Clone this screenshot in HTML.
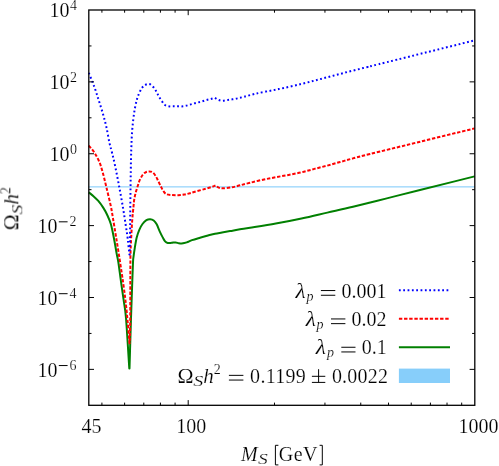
<!DOCTYPE html>
<html><head><meta charset="utf-8"><title>plot</title>
<style>html,body{margin:0;padding:0;background:#fff;}svg{display:block;}text{font-family:"Liberation Serif",serif;fill:#000;font-size:20px;stroke:#fff;stroke-width:0.18px;}.i{font-style:italic;}.s{font-size:14px;}.op{stroke:#000;stroke-width:1.0;fill:none;}</style></head><body>
<svg width="499" height="466" viewBox="0 0 499 466">
<rect x="0" y="0" width="499" height="466" fill="#fff"/>
<g opacity="0.999">
<rect x="88.80" y="186.20" width="386.00" height="1.3" fill="#87cefa" opacity="0.85"/>
<g fill="none" stroke-linejoin="round">
<path d="M88.80,192.40C90.37,193.67 91.92,194.78 93.50,196.20C95.08,197.62 96.68,199.00 98.30,200.90C99.92,202.80 101.75,205.33 103.20,207.60C104.65,209.87 105.72,211.72 107.00,214.50C108.28,217.28 109.70,220.10 110.90,224.30C112.10,228.50 113.23,234.77 114.20,239.70C115.17,244.63 116.00,250.10 116.70,253.90C117.40,257.70 117.65,257.62 118.40,262.50C119.15,267.38 120.30,276.75 121.20,283.20C122.10,289.65 123.00,295.40 123.80,301.20C124.60,307.00 125.08,306.80 126.00,318.00C126.92,329.20 128.20,351.60 129.30,368.40L129.50,368.40C130.00,351.60 130.55,332.15 131.00,318.00C131.45,303.85 131.87,292.78 132.20,283.50C132.53,274.22 132.78,266.75 133.00,262.30C133.22,257.85 133.20,259.22 133.50,256.80C133.80,254.38 134.27,251.02 134.80,247.80C135.33,244.58 135.95,240.50 136.70,237.50C137.45,234.50 138.33,232.05 139.30,229.80C140.27,227.55 141.32,225.60 142.50,224.00C143.68,222.40 145.12,220.98 146.40,220.20C147.68,219.42 148.98,219.25 150.20,219.30C151.42,219.35 152.62,219.67 153.70,220.50C154.78,221.33 155.70,222.48 156.70,224.30C157.70,226.12 158.70,229.22 159.70,231.40C160.70,233.58 161.80,235.73 162.70,237.40C163.60,239.07 164.27,240.47 165.10,241.40C165.93,242.33 166.60,242.77 167.70,243.00C168.80,243.23 170.37,242.90 171.70,242.80C173.03,242.70 174.53,242.33 175.70,242.40C176.87,242.47 177.70,243.03 178.70,243.20C179.70,243.37 180.37,243.53 181.70,243.40C183.03,243.27 184.98,242.95 186.70,242.40C188.42,241.85 189.78,240.88 192.00,240.10C194.22,239.32 197.33,238.47 200.00,237.70C202.67,236.93 205.50,236.17 208.00,235.50C210.50,234.83 212.67,234.20 215.00,233.70C217.33,233.20 219.50,232.93 222.00,232.50C224.50,232.07 227.00,231.63 230.00,231.10C233.00,230.57 236.67,229.85 240.00,229.30C243.33,228.75 244.03,228.75 250.00,227.80C255.97,226.85 267.22,225.15 275.80,223.60C284.38,222.05 292.92,220.33 301.50,218.50C310.08,216.67 318.72,214.57 327.30,212.60C335.88,210.63 343.25,209.03 353.00,206.70C362.75,204.37 374.63,201.38 385.80,198.60C396.97,195.82 405.20,193.70 420.00,190.00C434.80,186.30 456.40,180.93 474.60,176.40" stroke="#008000" stroke-width="2"/>
<path d="M88.80,145.60C90.70,147.97 92.75,149.98 94.50,152.70C96.25,155.42 97.95,158.70 99.30,161.90C100.65,165.10 101.42,167.67 102.60,171.90C103.78,176.13 105.02,181.53 106.40,187.30C107.78,193.07 109.82,201.40 110.90,206.50C111.98,211.60 112.03,212.78 112.90,217.90C113.77,223.02 114.93,230.02 116.10,237.20C117.27,244.38 118.72,253.33 119.90,261.00C121.08,268.67 122.23,276.28 123.20,283.20C124.17,290.12 125.00,296.53 125.70,302.50C126.40,308.47 126.77,312.20 127.40,319.00C128.03,325.80 128.80,335.20 129.50,343.30L129.70,343.30C129.87,335.53 130.08,333.72 130.20,320.00C130.32,306.28 130.28,273.73 130.40,261.00C130.52,248.27 130.60,250.37 130.90,243.60C131.20,236.83 131.77,226.58 132.20,220.40C132.63,214.22 133.17,209.95 133.50,206.50C133.83,203.05 133.85,201.95 134.20,199.70C134.55,197.45 135.05,195.17 135.60,193.00C136.15,190.83 136.83,188.80 137.50,186.70C138.17,184.60 138.75,182.35 139.60,180.40C140.45,178.45 141.60,176.35 142.60,175.00C143.60,173.65 144.50,172.90 145.60,172.30C146.70,171.70 148.00,171.38 149.20,171.40C150.40,171.42 151.70,171.60 152.80,172.40C153.90,173.20 154.90,174.77 155.80,176.20C156.70,177.63 157.33,179.25 158.20,181.00C159.07,182.75 160.18,185.10 161.00,186.70C161.82,188.30 162.25,189.38 163.10,190.60C163.95,191.82 164.80,193.27 166.10,194.00C167.40,194.73 168.90,194.80 170.90,195.00C172.90,195.20 175.90,195.27 178.10,195.20C180.30,195.13 182.12,194.93 184.10,194.60C186.08,194.27 187.82,193.78 190.00,193.20C192.18,192.62 194.57,191.85 197.20,191.10C199.83,190.35 203.30,189.42 205.80,188.70C208.30,187.98 210.58,187.33 212.20,186.80C213.82,186.27 214.40,185.93 215.50,185.50L215.50,185.50C216.57,186.20 217.45,187.13 218.70,187.60C219.95,188.07 220.87,188.33 223.00,188.30C225.13,188.27 228.65,187.90 231.50,187.40C234.35,186.90 237.02,186.07 240.10,185.30C243.18,184.53 246.20,183.73 250.00,182.80C253.80,181.87 258.60,180.63 262.90,179.70C267.20,178.77 271.52,178.00 275.80,177.20C280.08,176.40 284.32,175.72 288.60,174.90C292.88,174.08 297.20,173.30 301.50,172.30C305.80,171.30 310.10,170.02 314.40,168.90C318.70,167.78 323.02,166.75 327.30,165.60C331.58,164.45 335.82,163.20 340.10,162.00C344.38,160.80 348.02,159.73 353.00,158.40C357.98,157.07 349.73,159.00 370.00,154.00C390.27,149.00 439.73,136.93 474.60,128.40" stroke="#ff0000" stroke-width="2" stroke-dasharray="3.4 1.75"/>
<path d="M88.80,72.80C90.77,77.83 93.02,83.23 94.70,87.90C96.38,92.57 97.48,96.33 98.90,100.80C100.32,105.27 101.93,110.23 103.20,114.70C104.47,119.17 105.47,122.95 106.50,127.60C107.53,132.25 108.48,138.43 109.40,142.60C110.32,146.77 111.07,148.80 112.00,152.60C112.93,156.40 113.80,159.72 115.00,165.40C116.20,171.08 117.87,179.63 119.20,186.70C120.53,193.77 121.92,201.42 123.00,207.80C124.08,214.18 124.92,219.88 125.70,225.00C126.48,230.12 127.08,233.58 127.70,238.50C128.32,243.42 128.83,249.17 129.40,254.50L129.70,254.50C129.83,246.57 130.00,238.62 130.10,230.70C130.20,222.78 130.20,216.17 130.30,207.00C130.40,197.83 130.58,183.75 130.70,175.70C130.82,167.65 130.88,163.68 131.00,158.70C131.12,153.72 131.23,150.08 131.40,145.80C131.57,141.52 131.70,137.28 132.00,133.00C132.30,128.72 132.72,124.22 133.20,120.10C133.68,115.98 134.25,111.85 134.90,108.30C135.55,104.75 136.32,101.47 137.10,98.80C137.88,96.13 138.75,94.17 139.60,92.30C140.45,90.43 141.23,88.83 142.20,87.60C143.17,86.37 144.20,85.50 145.40,84.90C146.60,84.30 148.13,83.70 149.40,84.00C150.67,84.30 151.97,85.65 153.00,86.70C154.03,87.75 154.85,89.10 155.60,90.30C156.35,91.50 156.85,92.68 157.50,93.90C158.15,95.12 158.77,96.38 159.50,97.60C160.23,98.82 161.05,100.02 161.90,101.20C162.75,102.38 163.50,103.85 164.60,104.70C165.70,105.55 167.13,106.05 168.50,106.30C169.87,106.55 171.38,106.20 172.80,106.20C174.22,106.20 175.55,106.27 177.00,106.30C178.45,106.33 180.05,106.48 181.50,106.40C182.95,106.32 184.28,106.10 185.70,105.80C187.12,105.50 188.58,105.00 190.00,104.60C191.42,104.20 192.83,103.77 194.20,103.40C195.57,103.03 196.83,102.75 198.20,102.40C199.57,102.05 201.00,101.70 202.40,101.30C203.80,100.90 205.22,100.38 206.60,100.00C207.98,99.62 209.32,99.37 210.70,99.00C212.08,98.63 213.50,98.20 214.90,97.80L214.90,97.80C216.00,98.47 216.98,99.30 218.20,99.80C219.42,100.30 220.78,100.73 222.20,100.80C223.62,100.87 225.25,100.42 226.70,100.20C228.15,99.98 229.50,99.72 230.90,99.50C232.30,99.28 233.77,99.15 235.10,98.90C236.43,98.65 237.60,98.30 238.90,98.00C240.20,97.70 241.50,97.45 242.90,97.10C244.30,96.75 245.27,96.45 247.30,95.90C249.33,95.35 252.02,94.52 255.10,93.80C258.18,93.08 261.87,92.38 265.80,91.60C269.73,90.82 272.75,90.38 278.70,89.10C284.65,87.82 294.13,85.68 301.50,83.90C308.87,82.12 315.75,80.25 322.90,78.40C330.05,76.55 337.25,74.63 344.40,72.80C351.55,70.97 360.08,68.83 365.80,67.40C371.52,65.97 360.57,68.70 378.70,64.20C396.83,59.70 442.63,48.33 474.60,40.40" stroke="#0000ff" stroke-width="2" stroke-dasharray="1.8 2.53"/>
</g>
<path d="M88.80,369.36h5.20M474.80,369.36h-5.20M88.80,333.43h2.70M474.80,333.43h-2.70M88.80,297.49h5.20M474.80,297.49h-5.20M88.80,261.55h2.70M474.80,261.55h-2.70M88.80,225.62h5.20M474.80,225.62h-5.20M88.80,189.68h2.70M474.80,189.68h-2.70M88.80,153.75h5.20M474.80,153.75h-5.20M88.80,117.81h2.70M474.80,117.81h-2.70M88.80,81.87h5.20M474.80,81.87h-5.20M88.80,45.94h2.70M474.80,45.94h-2.70M101.91,405.30v-2.70M101.91,10.00v2.70M124.61,405.30v-2.70M124.61,10.00v2.70M143.80,405.30v-2.70M143.80,10.00v2.70M160.42,405.30v-2.70M160.42,10.00v2.70M175.08,405.30v-2.70M175.08,10.00v2.70M188.19,405.30v-5.20M188.19,10.00v5.20M274.47,405.30v-2.70M274.47,10.00v2.70M324.94,405.30v-2.70M324.94,10.00v2.70M360.75,405.30v-2.70M360.75,10.00v2.70M388.52,405.30v-2.70M388.52,10.00v2.70M411.22,405.30v-2.70M411.22,10.00v2.70M430.40,405.30v-2.70M430.40,10.00v2.70M447.02,405.30v-2.70M447.02,10.00v2.70M461.69,405.30v-2.70M461.69,10.00v2.70" stroke="#000" stroke-width="1.0" fill="none"/>
<rect x="88.80" y="10.00" width="386.00" height="395.30" fill="none" stroke="#000" stroke-width="1.3"/>
<text x="49.6" y="17.40">10</text><text class="s" x="69.9" y="10.20">4</text>
<text x="49.6" y="89.27">10</text><text class="s" x="69.9" y="82.07">2</text>
<text x="49.6" y="161.15">10</text><text class="s" x="69.9" y="153.95">0</text>
<text x="37.4" y="233.02">10</text><path class="op" d="M58.80,221.82H67.60"/><text class="s" x="69.4" y="225.82">2</text>
<text x="37.4" y="304.89">10</text><path class="op" d="M58.80,293.69H67.60"/><text class="s" x="69.4" y="297.69">4</text>
<text x="37.4" y="376.76">10</text><path class="op" d="M58.80,365.56H67.60"/><text class="s" x="69.4" y="369.56">6</text>
<text x="81.6" y="432.6">45</text>
<text x="176.3" y="432.6">100</text>
<text x="458.4" y="432.6">1000</text>
<text class="i" x="241" y="460.6">M</text><text class="i s" transform="translate(258.0,464.2) scale(1.4,1)">S</text><text x="278.8" y="460.6" letter-spacing="0.4">GeV</text><path class="op" d="M278.4,445.3H275.4V464.9H278.4M319.6,445.3H322.3V464.9H319.6"/>
<g transform="translate(18.3,229.6) rotate(-90)"><text x="-0.80" y="0.00" style="font-size:21.6px">Ω</text><text class="i" transform="translate(14.90,3.60) scale(1.3,1)" style="font-size:15.4px">S</text><text class="i" x="24.90" y="0.00" style="font-size:21px">h</text><text class="s" x="35.40" y="-8.30">2</text></g>
<text class="i" transform="translate(295.40,297.70) scale(1.18,1)">λ</text>
<text class="i s" x="306.60" y="300.70">p</text>
<path class="op" d="M320.90,290.55H335.30M320.90,295.25H335.30"/>
<text x="341.50" y="297.70">0.001</text>
<text class="i" transform="translate(305.80,326.10) scale(1.18,1)">λ</text>
<text class="i s" x="316.60" y="329.10">p</text>
<path class="op" d="M331.00,318.95H345.40M331.00,323.65H345.40"/>
<text x="351.60" y="326.10">0.02</text>
<text class="i" transform="translate(315.80,354.40) scale(1.18,1)">λ</text>
<text class="i s" x="327.00" y="357.40">p</text>
<path class="op" d="M341.30,347.25H355.50M341.30,351.95H355.50"/>
<text x="361.70" y="354.40">0.1</text>
<text x="177.60" y="382.50" style="font-size:21.6px">Ω</text><text class="i" transform="translate(193.30,386.10) scale(1.3,1)" style="font-size:15.4px">S</text><text class="i" x="203.30" y="382.50" style="font-size:21px">h</text><text class="s" x="213.80" y="374.20">2</text>
<path class="op" d="M228.90,375.35H243.40M228.90,380.05H243.40"/>
<text x="250.1" y="382.50" letter-spacing="0.3">0.1199</text>
<path class="op" d="M311.90,382.40H325.30M311.90,376.30H325.30M318.60,369.20V382.40"/>
<text x="331.9" y="382.50" letter-spacing="0.2">0.0022</text>
<g fill="none">
<path d="M398.90,290.20H450.00" stroke="#0000ff" stroke-width="2" stroke-dasharray="1.8 2.53"/>
<path d="M398.90,318.70H450.00" stroke="#ff0000" stroke-width="2" stroke-dasharray="3.4 1.75"/>
<path d="M398.90,347.25H450.00" stroke="#008000" stroke-width="2"/>
</g>
<rect x="398.90" y="368.60" width="51.10" height="14.40" fill="#87cefa"/>
</g>
</svg></body></html>
